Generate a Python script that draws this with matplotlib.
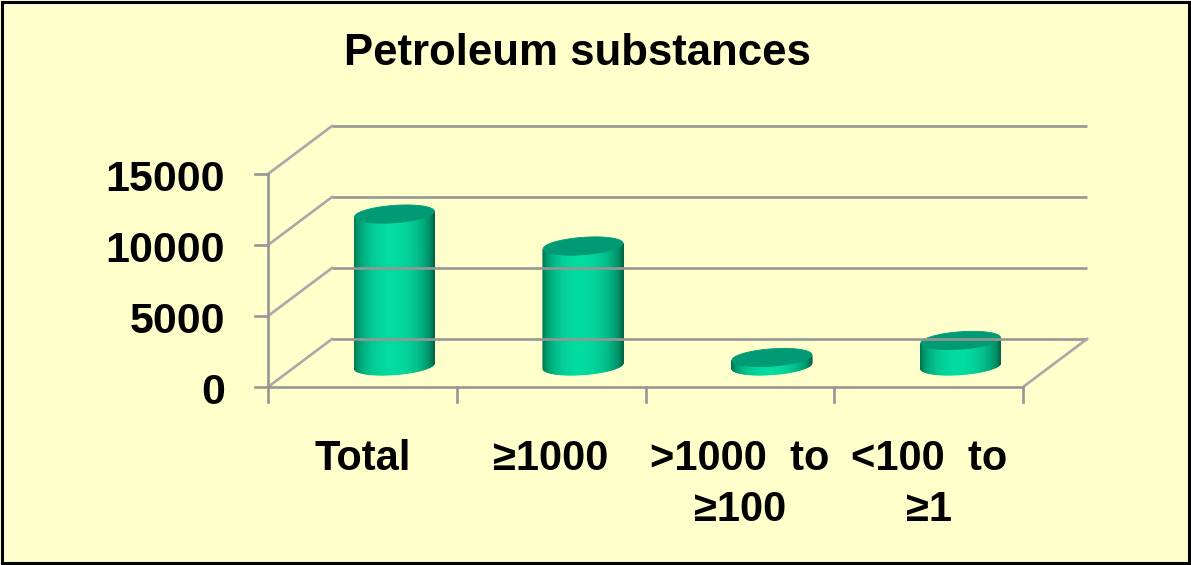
import matplotlib.pyplot as plt
import numpy as np
from matplotlib.patches import Polygon, Rectangle

plt.rcParams['font.family'] = ['Liberation Sans', 'DejaVu Sans']
plt.rcParams['font.weight'] = 'bold'

title = "Petroleum substances"
categories = ["Total", "≥1000", ">1000  to\n≥100", "<100  to\n≥1"]
values = [10700, 8450, 600, 1800]
y_ticks = [0, 5000, 10000, 15000]

W, H = 1191, 565
fig = plt.figure(figsize=(W / 100, H / 100), dpi=100)
fig.patch.set_facecolor('#FFFFCC')
ax = fig.add_axes([0, 0, 1, 1])
ax.axis('off')

# front plane scale: pixels per category and per unit value
sx = 188.75
sy = 71 / 5000
x_left, y_zero = 268, 387
ax.set_xlim(-0.5 - x_left / sx, -0.5 + (W - x_left) / sx)
ax.set_ylim(-(H - y_zero) / sy, y_zero / sy)

# depth vector of the 3D box
DX, DY = 64 / sx, 48 / sy
n = len(categories)
x0, x1 = -0.5, n - 0.5
ymax = y_ticks[-1]

grid = '#969696'
lw = 1.9

# back wall, side wall, floor
for v in y_ticks:
    ax.plot([x0 + DX, x1 + DX], [v + DY, v + DY], color=grid, lw=lw, solid_capstyle='butt')
    ax.plot([x0, x0 + DX], [v, v + DY], color='#A8A8A8', lw=lw)
    ax.plot([x0 - 13 / sx, x0], [v, v], color=grid, lw=lw)
ax.plot([x0, x0], [0, ymax], color=grid, lw=lw)
ax.plot([x0, x1], [0, 0], color=grid, lw=lw)
ax.plot([x1, x1 + DX], [0, DY], color='#A8A8A8', lw=lw)
for k in range(n + 1):
    ax.plot([k - 0.5, k - 0.5], [0, -15 / sy], color=grid, lw=lw)

# cylinders
r = 38 / sx
d = 0.19
th0 = np.arctan2(d * 64, 38)
dark = np.array([0x00, 0x66, 0x48]) / 255
bright = np.array([0x00, 0xDC, 0xA0]) / 255
top_col = '#009B74'


def pt(cx, cy, t):
    return cx + r * np.cos(t) + d * np.sin(t) * DX, cy + d * np.sin(t) * DY


for i, v in enumerate(values):
    cx = i + 0.5 * DX
    base = 0.5 * DY - 3 / sy
    top = base + v
    th = np.linspace(th0 + np.pi, th0 + 2 * np.pi, 90)
    for k in range(len(th) - 1):
        a, b = th[k], th[k + 1]
        tm = 0.5 * (a + b)
        inten = max(0.0, np.cos(tm - np.radians(-75))) ** 1.2
        col = dark + (bright - dark) * inten
        poly = [pt(cx, base, a), pt(cx, base, b), pt(cx, top, b), pt(cx, top, a)]
        ax.add_patch(Polygon(poly, closed=True, facecolor=col, edgecolor=col, lw=0.6))
    ta = np.linspace(0, 2 * np.pi, 120)
    ex, ey = pt(cx, top, ta)
    ax.add_patch(Polygon(np.column_stack([ex, ey]), closed=True,
                         facecolor=top_col, edgecolor=top_col, lw=0.6))

# y tick labels
for v in y_ticks:
    ax.text(x0 - 43 / sx, v - 17 / sy, f"{v}", ha='right', va='baseline',
            fontsize=31, fontweight='bold', color='black')

# category labels
for i, lab in enumerate(categories):
    for j, line in enumerate(lab.split('\n')):
        ax.text(i, -(470 - y_zero + 51 * j) / sy, line, ha='center', va='baseline',
                fontsize=30, fontweight='bold', color='black')

# title
ax.text(-0.5 + (577 - x_left) / sx, (y_zero - 65) / sy, title, ha='center',
        va='baseline', fontsize=31.5, fontweight='bold', color='black')

fig.add_artist(Rectangle((0.0013, 0.0027), 0.9974, 0.9946, transform=fig.transFigure,
                         fill=False, edgecolor='black', lw=2.2))

fig.savefig('out.png', dpi=100, facecolor=fig.get_facecolor())
